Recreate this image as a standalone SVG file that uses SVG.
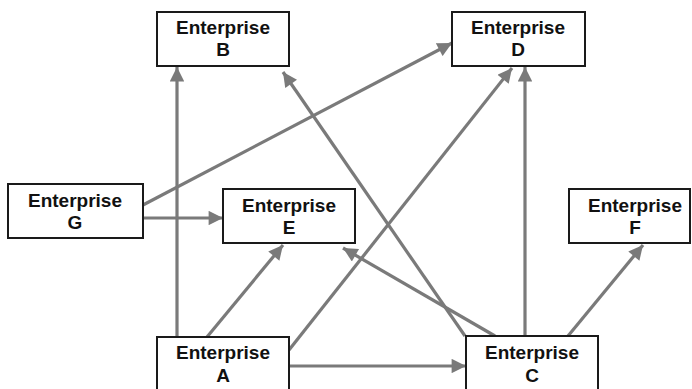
<svg xmlns="http://www.w3.org/2000/svg" width="692" height="389" viewBox="0 0 692 389">
<defs>
<style>
.box{fill:#fff;stroke:#1a1a1a;stroke-width:2}
.t{font-family:"Liberation Sans",Arial,sans-serif;font-weight:bold;font-size:19px;fill:#111;text-anchor:middle}
.c{stroke:#7a7a7a;stroke-width:3.2;fill:none;marker-end:url(#ah)}
</style>
<marker id="ah" viewBox="0 0 10 10" refX="10" refY="5" markerWidth="5" markerHeight="4.5" orient="auto" markerUnits="strokeWidth">
<path d="M0,0 L10,5 L0,10 Z" fill="#7a7a7a"/>
</marker>
</defs>
<rect width="692" height="389" fill="#fff"/>
<g id="connectors">
<line class="c" x1="177" y1="337" x2="177" y2="67"/>
<line class="c" x1="207" y1="337" x2="283" y2="245"/>
<line class="c" x1="289" y1="350" x2="512" y2="68"/>
<line class="c" x1="289" y1="366" x2="466" y2="366"/>
<line class="c" x1="465" y1="336" x2="283" y2="72"/>
<line class="c" x1="495" y1="336" x2="343" y2="248"/>
<line class="c" x1="525" y1="336" x2="525" y2="67"/>
<line class="c" x1="568" y1="336" x2="643" y2="245"/>
<line class="c" x1="143" y1="205" x2="452" y2="43"/>
<line class="c" x1="143" y1="218" x2="223" y2="218"/>
</g>
<g id="B"><rect class="box" x="157" y="12" width="132" height="54"/><text class="t" x="223" y="34">Enterprise</text><text class="t" x="223" y="56">B</text></g>
<g id="D"><rect class="box" x="452" y="12" width="133" height="54"/><text class="t" x="518" y="34">Enterprise</text><text class="t" x="518" y="56">D</text></g>
<g id="G"><rect class="box" x="8" y="184" width="135" height="54"/><text class="t" x="75" y="207">Enterprise</text><text class="t" x="75" y="229">G</text></g>
<g id="E"><rect class="box" x="223" y="189" width="132" height="54"/><text class="t" x="289" y="212">Enterprise</text><text class="t" x="289" y="234">E</text></g>
<g id="F"><rect class="box" x="569" y="189" width="121" height="54"/><text class="t" x="635" y="212">Enterprise</text><text class="t" x="635" y="234">F</text></g>
<g id="A"><rect class="box" x="157" y="337" width="132" height="60"/><text class="t" x="223" y="359">Enterprise</text><text class="t" x="223" y="382">A</text></g>
<g id="C"><rect class="box" x="466" y="336" width="132" height="60"/><text class="t" x="532" y="359">Enterprise</text><text class="t" x="532" y="382">C</text></g>
</svg>
